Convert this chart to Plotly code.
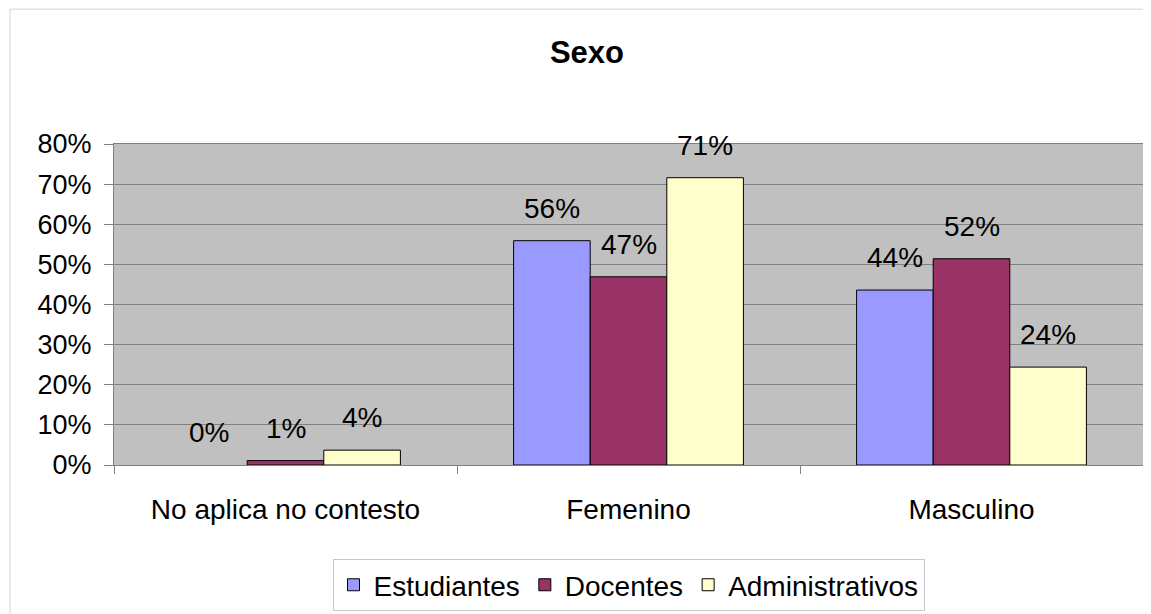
import plotly.graph_objects as go

categorias = ["No aplica no contesto", "Femenino", "Masculino"]
series = ["Estudiantes", "Docentes", "Administrativos"]
estudiantes = [0.0, 0.559, 0.436]
docentes = [0.011, 0.469, 0.514]
administrativos = [0.037, 0.716, 0.244]
etiquetas_est = ["0%", "56%", "44%"]
etiquetas_doc = ["1%", "47%", "52%"]
etiquetas_adm = ["4%", "71%", "24%"]
ticks_y = [0, 0.1, 0.2, 0.3, 0.4, 0.5, 0.6, 0.7, 0.8]

colores = ["#9999FF", "#993366", "#FFFFCC"]
valores = [estudiantes, docentes, administrativos]
etiquetas = [etiquetas_est, etiquetas_doc, etiquetas_adm]

fuente = "Liberation Sans, Arial, sans-serif"

# la pagina deja 8px de margen, por eso el figure es 8px menor
W, H = 1143, 606

fig = go.Figure()
for nombre, vals, col in zip(series, valores, colores):
    fig.add_trace(go.Bar(
        x=categorias,
        y=[v if v > 0 else None for v in vals],  # las barras en 0 no se dibujan
        name=nombre,
        marker=dict(color=col, line=dict(color="black", width=1)),
    ))

# etiquetas de datos encima de cada barra
ancho_barra = 76.5
for s, (vals, labs) in enumerate(zip(valores, etiquetas)):
    for cat, v, lab in zip(categorias, vals, labs):
        fig.add_annotation(
            x=cat, y=v, text=lab, showarrow=False,
            xshift=(s - 1) * ancho_barra, yshift=15, yanchor="bottom",
            font=dict(family=fuente, size=28, color="black"),
        )

# borde exterior del grafico
fig.add_shape(type="rect", xref="paper", yref="paper",
              x0=-0.101, x1=1.05, y0=-0.6, y1=1.42,
              line=dict(color="#D4D4D4", width=1), layer="below")

fig.update_layout(
    width=W, height=H,
    margin=dict(l=106, r=8, t=136, b=149, autoexpand=False),
    paper_bgcolor="white", plot_bgcolor="#C0C0C0",
    font=dict(family=fuente, size=28, color="black"),
    title=dict(text="<b>Sexo</b>", x=579 / W, xanchor="center",
               y=1 - 44 / H, yanchor="middle", yref="container",
               font=dict(size=31, family=fuente, color="black")),
    barmode="group", bargap=0.33, bargroupgap=0,
    showlegend=True,
    legend=dict(orientation="h", x=0.5, xanchor="center", xref="paper",
                y=-0.293, yanchor="top",
                bordercolor="#C8C8C8", borderwidth=1,
                font=dict(size=28, family=fuente),
                itemwidth=30, tracegroupgap=0),
)
fig.update_xaxes(
    showline=True, linecolor="#808080", mirror=True,
    ticks="outside", tickson="boundaries", ticklen=8, tickcolor="#808080",
    ticklabelstandoff=19, showgrid=False,
    tickfont=dict(size=28),
)
fig.update_yaxes(
    range=[0, 0.8], tickvals=ticks_y, tickformat=".0%",
    showline=True, linecolor="#808080", mirror=True,
    ticks="outside", ticklen=9, tickcolor="#808080",
    ticklabelstandoff=7,
    showgrid=True, gridcolor="#808080", gridwidth=1, zeroline=False,
    tickfont=dict(size=27),
)

fig.write_html("out.html")
